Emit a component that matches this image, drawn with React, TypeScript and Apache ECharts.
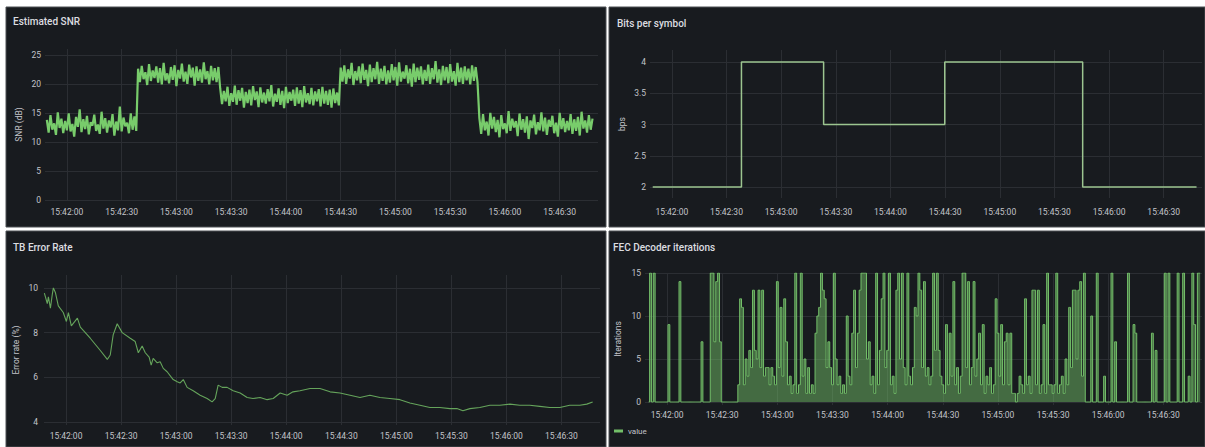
import React, { useEffect, useRef } from "react";
import * as echarts from "echarts";

// ---------- time axis (seconds relative to 15:42:00) ----------
const xTickSeconds = [0, 30, 60, 90, 120, 150, 180, 210, 240, 270];
const xTickLabels = ["15:42:00", "15:42:30", "15:43:00", "15:43:30", "15:44:00", "15:44:30", "15:45:00", "15:45:30", "15:46:00", "15:46:30"];

// ---------- Estimated SNR (dB), 1 sample / s ----------
const snrStart = -11;
const snrStep = 1;
const snrValues = [
  // 15:41:49 .. 15:42:38
  13.8, 11.6, 14.6, 12.1, 13.2, 11.2, 15.1, 12.4, 14.0, 11.5,
  13.6, 12.0, 14.9, 11.8, 13.1, 10.9, 14.3, 12.6, 15.6, 11.7,
  13.9, 12.2, 14.5, 11.3, 13.4, 12.8, 14.7, 11.9, 13.0, 11.4,
  15.2, 12.3, 14.1, 11.6, 13.7, 12.5, 14.8, 11.1, 13.5, 12.0,
  16.1, 11.8, 14.2, 12.7, 13.3, 11.5, 14.9, 12.1, 14.4, 11.9,
  // .. 15:43:23
  22.6, 20.3, 23.1, 20.8, 22.0, 19.8, 23.4, 20.5, 22.3, 21.0,
  23.0, 20.2, 22.7, 19.9, 23.6, 20.6, 21.8, 20.1, 22.9, 20.7,
  23.2, 19.6, 22.4, 20.9, 23.5, 20.4, 22.1, 20.0, 23.3, 21.1,
  22.8, 19.7, 23.0, 20.5, 22.5, 20.2, 23.7, 20.8, 22.2, 19.9,
  23.1, 20.6, 22.7, 20.3, 22.9,
  // .. 15:44:29
  19.2, 16.5, 18.8, 17.0, 19.5, 16.2, 18.4, 16.9, 19.7, 16.4,
  18.9, 17.1, 19.3, 15.9, 18.6, 16.7, 19.0, 16.3, 19.6, 17.2,
  18.7, 16.0, 19.4, 16.8, 18.5, 16.6, 19.1, 17.0, 19.8, 16.1,
  18.3, 16.9, 19.2, 16.4, 18.8, 15.8, 19.5, 16.7, 18.6, 17.1,
  19.0, 16.2, 19.4, 16.6, 18.9, 16.0, 19.6, 16.8, 18.4, 16.5,
  19.3, 16.3, 18.7, 17.0, 19.1, 16.1, 19.5, 16.6, 18.8, 16.4,
  19.0, 15.9, 19.2, 16.7, 18.5, 16.3,
  // .. 15:45:45
  22.8, 20.4, 23.2, 20.0, 22.5, 20.9, 23.6, 19.8, 22.2, 20.6,
  23.0, 20.1, 23.5, 20.7, 22.4, 19.6, 23.3, 20.3, 22.7, 20.8,
  23.8, 20.0, 22.6, 20.5, 23.1, 19.9, 22.3, 20.2, 23.4, 20.6,
  22.9, 19.7, 23.7, 20.4, 22.1, 20.9, 23.2, 20.1, 22.6, 19.5,
  23.5, 20.3, 22.8, 20.7, 23.0, 19.9, 22.4, 20.5, 23.3, 20.0,
  22.7, 20.8, 23.9, 20.2, 22.5, 19.8, 23.1, 20.6, 22.9, 20.1,
  23.4, 20.4, 22.2, 19.7, 23.6, 20.3, 22.8, 20.0, 23.0, 20.6,
  22.6, 19.9, 23.2, 20.5, 22.9, 20.2,
  // .. 15:46:48
  14.1, 11.4, 14.8, 12.0, 13.5, 11.1, 15.0, 12.3, 14.3, 11.7,
  13.8, 10.8, 14.6, 12.2, 13.2, 11.5, 15.3, 11.9, 14.0, 12.5,
  13.6, 11.0, 14.9, 12.1, 13.9, 11.6, 14.4, 10.5, 13.7, 12.4,
  14.7, 11.3, 13.4, 12.0, 15.1, 11.8, 14.2, 11.2, 13.8, 12.6,
  14.5, 11.5, 13.3, 10.9, 15.0, 12.2, 14.1, 11.7, 13.6, 12.0,
  14.8, 11.4, 13.9, 11.9, 14.3, 11.1, 15.2, 12.3, 13.7, 11.6,
  14.6, 12.1, 14.0,
];
const snrTicks = [0, 5, 10, 15, 20, 25];

// ---------- Bits per symbol ----------
const bpsTimes = [-10.5, 38.2, 83.3, 149.8, 225.5, 288];
const bpsValues = [2, 4, 3, 4, 2, 2];
const bpsTicks = [2, 2.5, 3, 3.5, 4];

// ---------- TB Error Rate (%) ----------
const tbTimes = [
  -11.8, -10.2, -9.6, -8.5, -7.5, -6.9, -5.8, -4.2, -1.5, 0.2,
  1.3, 2.9, 6.2, 7.8, 9.4, 13.2, 18.7, 22.5, 24.1, 25.7,
  27.9, 30.6, 35.0, 37.7, 39.4, 41.5, 43.2, 45.3, 46.4, 47.5,
  49.7, 51.3, 53.0, 55.1, 58.4, 60.6, 62.2, 63.9, 66.0, 69.3,
  73.1, 76.9, 79.6, 81.3, 82.9, 85.1, 87.8, 91.1, 94.9, 98.7,
  101.9, 105.8, 109.6, 112.9, 116.7, 120.5, 123.7, 127.5, 133.0, 138.4,
  143.9, 149.3, 154.8, 160.2, 165.6, 171.1, 176.5, 182.0, 187.4, 192.9,
  198.3, 203.7, 209.2, 213.0, 216.3, 220.1, 225.5, 231.0, 236.4, 241.9,
  247.3, 252.7, 258.2, 263.6, 269.1, 274.5, 280.0, 283.8, 287.0,
];
const tbValues = [
  9.77, 9.3, 9.6, 9.1, 9.7, 10.0, 9.8, 9.2, 8.9, 8.5,
  8.9, 8.3, 8.65, 8.25, 8.1, 7.75, 7.2, 6.8, 7.0, 7.9,
  8.4, 8.0, 7.75, 7.6, 7.1, 7.4, 7.1, 6.9, 6.55, 6.85,
  6.65, 6.7, 6.4, 6.25, 5.9, 5.8, 5.75, 5.9, 5.55, 5.4,
  5.2, 5.05, 4.9, 5.05, 5.65, 5.55, 5.55, 5.4, 5.3, 5.1,
  5.05, 5.1, 5.0, 5.05, 5.3, 5.2, 5.35, 5.4, 5.5, 5.5,
  5.35, 5.3, 5.2, 5.1, 5.2, 5.1, 5.05, 5.0, 4.85, 4.75,
  4.65, 4.65, 4.6, 4.6, 4.5, 4.6, 4.65, 4.75, 4.75, 4.8,
  4.75, 4.75, 4.7, 4.65, 4.65, 4.75, 4.75, 4.8, 4.9,
];
const tbTicks = [4, 6, 8, 10];

// ---------- FEC Decoder iterations, 1 sample / s ----------
const fecStart = -10;
const fecStep = 1;
const fecValues = [
  0, 15, 0, 15, 0, 0, 0, 0, 0, 0,
  0, 9, 0, 0, 0, 0, 0, 14, 0, 0,
  0, 0, 0, 0, 0, 0, 0, 0, 0, 7,
  0, 0, 0, 0, 15, 15, 7, 14, 15, 7,
  0, 0, 0, 0, 0, 0, 0, 0, 0, 2,
  12, 11, 2, 5, 3, 6, 4, 13, 6, 5,
  13, 4, 13, 3, 4, 4, 2, 4, 3, 2,
  14, 4, 11, 3, 12, 7, 2, 3, 1, 2,
  15, 1, 2, 15, 3, 5, 1, 4, 1, 2,
  1, 8, 10, 11, 15, 13, 12, 4, 7, 4,
  2, 15, 5, 2, 3, 1, 2, 1, 10, 3,
  2, 8, 13, 4, 8, 13, 15, 15, 15, 5,
  7, 2, 3, 1, 15, 2, 6, 12, 15, 4,
  6, 15, 2, 3, 1, 13, 15, 5, 15, 4,
  2, 15, 3, 2, 4, 11, 10, 15, 13, 4,
  14, 3, 4, 2, 3, 15, 6, 15, 6, 3,
  2, 1, 9, 2, 8, 3, 14, 2, 4, 1,
  3, 15, 15, 4, 14, 2, 4, 14, 3, 5,
  8, 2, 9, 1, 3, 2, 4, 1, 2, 12,
  8, 3, 9, 2, 7, 8, 2, 8, 1, 1,
  0, 1, 3, 2, 1, 12, 2, 3, 1, 13,
  13, 2, 13, 1, 2, 9, 1, 15, 2, 2,
  1, 2, 15, 1, 2, 3, 1, 5, 2, 11,
  4, 13, 13, 5, 13, 14, 3, 15, 0, 0,
  0, 10, 0, 0, 15, 0, 0, 0, 3, 0,
  0, 0, 15, 0, 7, 0, 0, 0, 0, 0,
  0, 15, 0, 0, 9, 8, 0, 0, 0, 0,
  0, 0, 0, 0, 8, 0, 6, 0, 0, 0,
  0, 15, 0, 15, 0, 0, 0, 0, 15, 0,
  0, 15, 0, 0, 3, 0, 15, 9, 0, 15,
  15,
];
const fecTicks = [0, 5, 10, 15];

// ---------- styling ----------
const FONT = "Roboto, 'Noto Sans', sans-serif";
const PANEL_BG = "#181b1f";
const PANEL_BORDER = "#4d5055";
const GRID_COLOR = "#2b2e33";
const LABEL_COLOR = "#c2c3c9";
const TITLE_COLOR = "#dcdde0";
const X_MIN = -12;
const X_MAX = 291;

type Panel = {
  title: string;
  titleLeft: number;
  titleTop: number;
  grid: { left: number; top: number; width: number; height: number };
  yMin: number;
  yMax: number;
  yTicks: number[];
  yName: string;
  nameGap: number;
  yLabelMargin: number;
  xLabelMargin: number;
};

const panels: Panel[] = [
  { title: "Estimated SNR", titleLeft: 13, titleTop: 16, grid: { left: 45, top: 49, width: 553, height: 151 }, yMin: 0, yMax: 26, yTicks: snrTicks, yName: "SNR (dB)", nameGap: 22, yLabelMargin: 4, xLabelMargin: 7 },
  { title: "Bits per symbol", titleLeft: 617, titleTop: 18, grid: { left: 650, top: 50, width: 552, height: 148 }, yMin: 1.824, yMax: 4.192, yTicks: bpsTicks, yName: "bps", nameGap: 24, yLabelMargin: 4, xLabelMargin: 9 },
  { title: "TB Error Rate", titleLeft: 13, titleTop: 242, grid: { left: 44, top: 275, width: 556, height: 150 }, yMin: 3.866, yMax: 10.58, yTicks: tbTicks, yName: "Error rate (%)", nameGap: 24, yLabelMargin: 6, xLabelMargin: 6 },
  { title: "FEC Decoder iterations", titleLeft: 613, titleTop: 242, grid: { left: 645, top: 273, width: 557, height: 132 }, yMin: -0.35, yMax: 15, yTicks: fecTicks, yName: "Iterations", nameGap: 23, yLabelMargin: 4, xLabelMargin: 5 },
];

const panelRects = [
  { x: 6, y: 7, width: 600, height: 220 },
  { x: 609, y: 7, width: 596, height: 220 },
  { x: 6, y: 231, width: 600, height: 216 },
  { x: 609, y: 231, width: 596, height: 216 },
];

function xLabel(v: number): string {
  const i = xTickSeconds.indexOf(Math.round(v));
  return i >= 0 ? xTickLabels[i] : "";
}

function buildOption(): echarts.EChartsOption {
  const snrData = snrValues.map((v, i) => [snrStart + i * snrStep, v]);
  const bpsData = bpsValues.map((v, i) => [bpsTimes[i], v]);
  const tbData = tbValues.map((v, i) => [tbTimes[i], v]);
  const fecData = fecValues.map((v, i) => [fecStart + i * fecStep, v]);

  return {
    animation: false,
    backgroundColor: "#ffffff",
    textStyle: { fontFamily: FONT },
    graphic: panelRects.map((r) => ({
      type: "rect",
      shape: r,
      style: { fill: PANEL_BG, stroke: PANEL_BORDER, lineWidth: 1 },
      silent: true,
      z: -10,
    })),
    title: panels.map((p) => ({
      text: p.title,
      left: p.titleLeft,
      top: p.titleTop,
      padding: 0,
      textStyle: { color: TITLE_COLOR, fontSize: 10, fontWeight: 500, fontFamily: FONT },
    })),
    legend: {
      data: ["value"],
      left: 614,
      top: 427,
      padding: 0,
      icon: "rect",
      itemWidth: 9,
      itemHeight: 3,
      itemGap: 4,
      textStyle: { color: LABEL_COLOR, fontSize: 8, fontFamily: FONT },
    },
    grid: panels.map((p) => ({ ...p.grid, containLabel: false })),
    xAxis: panels.map((p, gi) => ({
      type: "value",
      gridIndex: gi,
      min: X_MIN,
      max: X_MAX,
      axisLine: { show: false },
      axisTick: { show: false, customValues: xTickSeconds },
      axisLabel: {
        customValues: xTickSeconds,
        formatter: (v: number) => xLabel(v),
        color: LABEL_COLOR,
        fontSize: 8.5,
        fontFamily: FONT,
        margin: p.xLabelMargin,
      },
      splitLine: { show: true, lineStyle: { color: GRID_COLOR, width: 1 } },
    })),
    yAxis: panels.map((p, gi) => ({
      type: "value",
      gridIndex: gi,
      min: p.yMin,
      max: p.yMax,
      axisLine: { show: false },
      axisTick: { show: false, customValues: p.yTicks },
      axisLabel: {
        customValues: p.yTicks,
        color: LABEL_COLOR,
        fontSize: 8.5,
        fontFamily: FONT,
        margin: p.yLabelMargin,
      },
      splitLine: { show: true, lineStyle: { color: GRID_COLOR, width: 1 } },
      name: p.yName,
      nameLocation: "middle",
      nameGap: p.nameGap,
      nameTextStyle: { color: LABEL_COLOR, fontSize: 8.5, fontFamily: FONT },
    })),
    series: [
      {
        name: "snr",
        type: "line",
        xAxisIndex: 0,
        yAxisIndex: 0,
        data: snrData,
        showSymbol: false,
        lineStyle: { color: "#78cc6b", width: 2.2 },
        itemStyle: { color: "#78cc6b" },
      },
      {
        name: "bps",
        type: "line",
        xAxisIndex: 1,
        yAxisIndex: 1,
        data: bpsData,
        step: "end",
        showSymbol: false,
        lineStyle: { color: "#9cc590", width: 1.5 },
        itemStyle: { color: "#9cc590" },
      },
      {
        name: "tb",
        type: "line",
        xAxisIndex: 2,
        yAxisIndex: 2,
        data: tbData,
        showSymbol: false,
        lineStyle: { color: "#65a45b", width: 1.1 },
        itemStyle: { color: "#65a45b" },
      },
      {
        name: "value",
        type: "line",
        xAxisIndex: 3,
        yAxisIndex: 3,
        data: fecData,
        step: "middle",
        showSymbol: false,
        lineStyle: { color: "#73bf69", width: 1 },
        itemStyle: { color: "#73bf69" },
        areaStyle: { color: "rgba(115,191,105,0.7)" },
      },
    ],
  } as echarts.EChartsOption;
}

export default function App() {
  const ref = useRef<HTMLDivElement>(null);
  useEffect(() => {
    if (!ref.current) return;
    const chart = echarts.init(ref.current, undefined, { renderer: "svg" });
    chart.setOption(buildOption());
    return () => chart.dispose();
  }, []);
  return <div ref={ref} style={{ position: "absolute", left: 0, top: 0, width: 1205, height: 447 }} />;
}
